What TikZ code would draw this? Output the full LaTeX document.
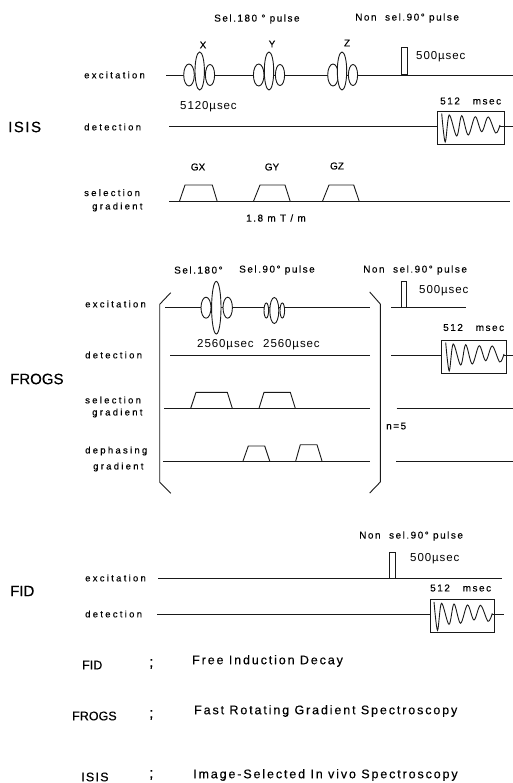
\documentclass[tikz,border=0pt]{standalone}
\usepackage{fontspec}
\setmainfont{Liberation Sans}
\newfontfamily\lsA[LetterSpace=24,FakeBold=0.25]{Liberation Sans}
\newfontfamily\lsB[LetterSpace=15,FakeBold=0.25]{Liberation Sans}
\newfontfamily\lsC[LetterSpace=8]{Liberation Sans}
\newfontfamily\lsD[FakeBold=0.25]{Liberation Sans}
\newfontfamily\lsE[LetterSpace=10,FakeBold=0.3]{Liberation Sans}
\newfontfamily\lsF[FakeBold=0.3]{Liberation Sans}
\newcommand{\fpt}[1]{\fontsize{#1}{#1}\selectfont}
\tikzset{
  sig/.style={line width=0.9pt,black!90},
  puls/.style={line width=0.9pt,black!90,fill=white},
  rowlab/.style={inner sep=0,anchor=west,font=\lsA\fpt{9.5}},
  title/.style={inner sep=0,anchor=west,font=\lsE\fpt{15}},
  head/.style={inner sep=0,anchor=west,font=\lsB\fpt{10}},
  dur/.style={inner sep=0,anchor=west,font=\lsC\fpt{11.5}},
  tiny/.style={inner sep=0,font=\lsD\fpt{10}},
  legend/.style={inner sep=0,anchor=west,font=\lsB\fpt{12.5}},
  legabbr/.style={inner sep=0,anchor=west,font=\lsD\fpt{12.5}},
}
\newcommand{\fidbox}[3]{% x,y of top-left, width
  \begin{scope}[shift={(#1,#2)}]
  \draw[sig] (0,0) rectangle (#3,33.5);
  \draw[sig,smooth,tension=0.55] plot coordinates {(4,2.5)(7.5,31)(11.5,4)(19,25)(24,4.7)(30.5,24)(37.5,5.7)(44,20.7)(50.5,6)(58,22)(62.3,14)};
  \end{scope}}
\begin{document}
\begin{tikzpicture}[x=1pt,y=-1pt]
\useasboundingbox (0,0) rectangle (513,783);
% ===== ISIS =====
\draw[sig] (166,75) -- (513,75);
\draw[sig] (169,126.7) -- (437.7,126.7);
\draw[sig] (500,126.7) -- (513,126.7);
\draw[sig] (169,201.7) -- (510,201.7);
\foreach \a/\b/\c in {189/199.7/210,258.7/269/280,333/342/353}{
  \draw[puls] (\a,75) ellipse [x radius=5.3,y radius=11];
  \draw[puls] (\c,75) ellipse [x radius=4.6,y radius=10.5];
  \draw[puls] (\b,71) ellipse [x radius=4.7,y radius=19];
}
\draw[puls] (401.7,74.5) rectangle (407.3,47);
\fidbox{437.7}{111}{66.3}
\draw[sig] (179.3,201.7) -- (185,185) -- (212.3,185) -- (217.3,201.7);
\draw[sig] (253.3,201.7) -- (260,185) -- (285,185) -- (290.3,201.7);
\draw[sig] (322.3,201.7) -- (329,185) -- (353.7,185) -- (359.3,201.7);
\node[title] (tisis) at (8,127) {ISIS};
\node[rowlab] (a1) at (84,75) {excitation};
\node[rowlab] (a2) at (84,127) {detection};
\node[rowlab] (a3) at (84,192.7) {selection};
\node[rowlab] (a4) at (92,207) {gradient};
\node[head] (a5) at (214,19) {Sel.180 ° pulse};
\node[head] (a6) at (355,18) {Non\ \ sel.90° pulse};
\node[tiny] (a7) at (203,45) {X};
\node[tiny] (a8) at (272,44) {Y};
\node[tiny] (a9) at (347,43) {Z};
\node[tiny] (a10) at (198,167) {GX};
\node[tiny] (a11) at (272,167) {GY};
\node[tiny] (a12) at (337,166) {GZ};
\node[head] (a13) at (246,218) {1.8 m T / m};
\node[dur] (a14) at (180,107) {5120µsec};
\node[dur] (a15) at (416,57) {500µsec};
\node[head] (a16) at (440,101) {512\ \ \ msec};
% ===== FROGS =====
\draw[sig] (165,307.7) -- (370,307.7);
\draw[sig] (391,307.7) -- (465.7,307.7);
\draw[sig] (170,355.3) -- (370,355.3);
\draw[sig] (391,355.3) -- (441.7,355.3);
\draw[sig] (504,355.3) -- (513,355.3);
\draw[sig] (164.3,408.3) -- (370,408.3);
\draw[sig] (396.7,408.3) -- (513,408.3);
\draw[sig] (163.3,461) -- (370,461);
\draw[sig] (396,461) -- (513,461);
\draw[puls] (206,307.7) ellipse [x radius=5,y radius=10.5];
\draw[puls] (227.7,307.7) ellipse [x radius=4.7,y radius=10.5];
\draw[puls] (216.3,307.7) ellipse [x radius=4.7,y radius=26.3];
\draw[puls] (266.3,310.5) ellipse [x radius=2.3,y radius=7.5];
\draw[puls] (282.3,310.5) ellipse [x radius=2.3,y radius=7.5];
\draw[puls] (274.3,310.5) ellipse [x radius=4.5,y radius=13];
\draw[puls] (401.3,307.7) rectangle (406.7,281.3);
\fidbox{441.7}{340}{65}
\draw[sig] (190.7,408.3) -- (196,392.3) -- (227.3,392.3) -- (232.3,408.3);
\draw[sig] (259,408.3) -- (264,392.3) -- (290.3,392.3) -- (295.3,408.3);
\draw[sig] (243,461) -- (248.3,446) -- (264.7,446) -- (269.7,461);
\draw[sig] (295.7,461) -- (300.3,444.7) -- (317,444.7) -- (322,461);
\draw[sig] (170.7,292.7) -- (159.7,304.3) -- (159.7,482.3) -- (170.7,493.3);
\draw[sig] (369.7,292) -- (380.3,304) -- (380.3,482) -- (369.7,493);
\node[title,font=\lsF\fpt{15}] (tfrogs) at (10,379) {FROGS};
\node[rowlab] (b1) at (85,304) {excitation};
\node[rowlab] (b2) at (85,355) {detection};
\node[rowlab] (b3) at (85,400) {selection};
\node[rowlab] (b4) at (92,413) {gradient};
\node[rowlab] (b5) at (85,451) {dephasing};
\node[rowlab] (b6) at (93,467) {gradient};
\node[head] (b7) at (174,270) {Sel.180°};
\node[head] (b8) at (239,270) {Sel.90° pulse};
\node[head] (b9) at (363,270) {Non\ \ sel.90° pulse};
\node[dur] (b10) at (419,291) {500µsec};
\node[head] (b11) at (443,327.5) {512\ \ \ msec};
\node[dur] (b12) at (197,344.5) {2560µsec};
\node[dur] (b13) at (263,344.5) {2560µsec};
\node[head] (b14) at (386,426) {n=5};
% ===== FID =====
\draw[sig] (158,578) -- (502,578);
\draw[sig] (157,614) -- (430,614);
\draw[sig] (492,614) -- (504,614);
\draw[puls] (389.3,578) rectangle (395.3,552.3);
\fidbox{430}{599.3}{64}
\node[title,font=\lsF\fpt{15}] (tfid) at (10,591) {FID};
\node[rowlab] (c1) at (85,578) {excitation};
\node[rowlab] (c2) at (85,614) {detection};
\node[head] (c3) at (359,536) {Non\ \ sel.90° pulse};
\node[dur] (c4) at (410,559) {500µsec};
\node[head] (c5) at (430,588) {512\ \ \ msec};
% ===== Legend =====
\node[legabbr] (d1) at (82,665) {FID};
\node[legabbr] (d2) at (72,716) {FROGS};
\node[legabbr,font=\lsE\fpt{12.5}] (d3) at (81,777) {ISIS};
\node[legabbr,font=\lsD\fpt{15}] (d4) at (149,664) {;};
\node[legabbr,font=\lsD\fpt{15}] (d5) at (149,715) {;};
\node[legabbr,font=\lsD\fpt{15}] (d6) at (149,775) {;};
\node[legend] (d7) at (192,661) {Free Induction Decay};
\node[legend] (d8) at (194,711) {Fast Rotating Gradient Spectroscopy};
\node[legend] (d9) at (193,775) {Image-Selected In vivo Spectroscopy};
\end{tikzpicture}
\end{document}
